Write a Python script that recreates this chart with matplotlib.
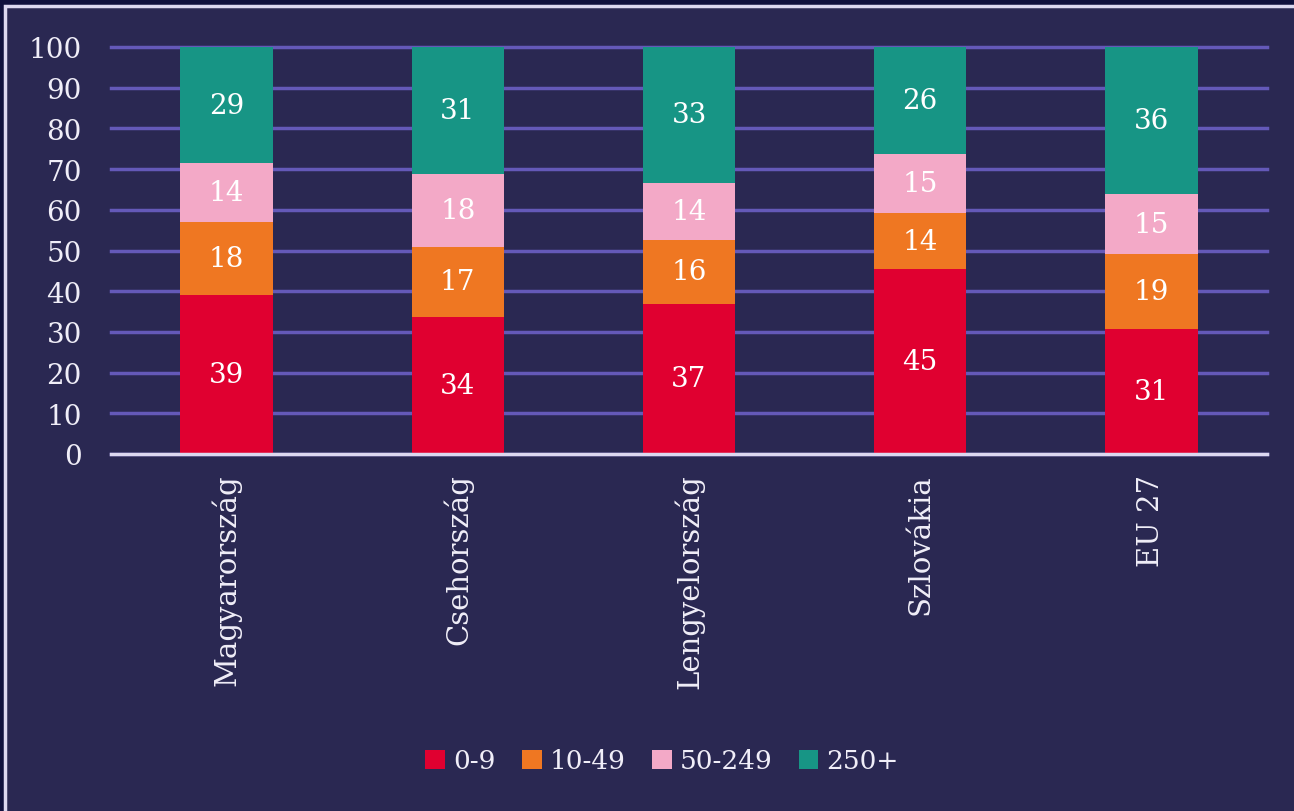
import matplotlib.pyplot as plt
from matplotlib.patches import Rectangle
import numpy as np

# vállalatméret szerinti megoszlás (%)
orszagok = ['Magyarország', 'Csehország', 'Lengyelország', 'Szlovákia', 'EU 27']
kat = ['0-9', '10-49', '50-249', '250+']
v0_9 = [39.1, 33.7, 36.9, 45.4, 30.6]
v10_49 = [17.9, 17.2, 15.7, 13.7, 18.6]
v50_249 = [14.4, 17.9, 14.0, 14.6, 14.6]
v250 = [28.6, 31.2, 33.4, 26.3, 36.2]
szinek = ['#e00030', '#ef7722', '#f3a9c7', '#179585']

bg = '#2a2852'
txt = '#f0eef8'
plt.rcParams['font.family'] = ['DejaVu Serif']

fig = plt.figure(figsize=(12.94, 8.12), dpi=100, facecolor='#10113d')
W, H = 1294, 812
keret = Rectangle((5 / W, -0.1), 1.2, 1.1 - 7 / H, transform=fig.transFigure,
                  facecolor=bg, edgecolor='#dcd8f0', lw=2.5, zorder=-10)
fig.patches.append(keret)
ax = fig.add_axes([111 / W, 1 - 455 / H, 1156 / W, 407 / H])
ax.set_facecolor('none')

x = np.arange(len(orszagok))
alap = np.zeros(len(orszagok))
for vals, c, nev in zip([v0_9, v10_49, v50_249, v250], szinek, kat):
    ax.bar(x, vals, 0.4, bottom=alap, color=c, label=nev, zorder=3)
    for xi, b, v in zip(x, alap, vals):
        ax.text(xi, b + v / 2, '%d' % round(v), ha='center', va='center',
                color='white', fontsize=20, zorder=4)
    alap = alap + np.array(vals)

ax.set_xlim(-0.5, 4.5)
ax.set_ylim(0, 100)
ax.set_yticks(range(0, 101, 10))
ax.yaxis.grid(True, color='#6459b8', lw=2.5, zorder=1)
for gl in ax.get_ygridlines():
    gl.set_clip_on(False)
ax.set_axisbelow(True)
ax.set_xticks(x)
ax.set_xticklabels(orszagok, rotation=90)
ax.tick_params(length=0, labelsize=20, colors=txt)
ax.tick_params(axis='x', labelsize=21, pad=14)
ax.tick_params(axis='y', pad=21)
for s in ['top', 'right', 'left']:
    ax.spines[s].set_visible(False)
ax.spines['bottom'].set_color('#dcd8f0')
ax.spines['bottom'].set_linewidth(2.5)
ax.spines['bottom'].set_zorder(5)

leg = fig.legend(loc='center', bbox_to_anchor=(662 / W, 1 - 762 / H), ncol=4,
                 frameon=False, fontsize=19, handlelength=0.75, handleheight=0.75,
                 handletextpad=0.3, columnspacing=1.0, labelcolor=txt)

fig.savefig('out.png', dpi=100, facecolor=fig.get_facecolor())
